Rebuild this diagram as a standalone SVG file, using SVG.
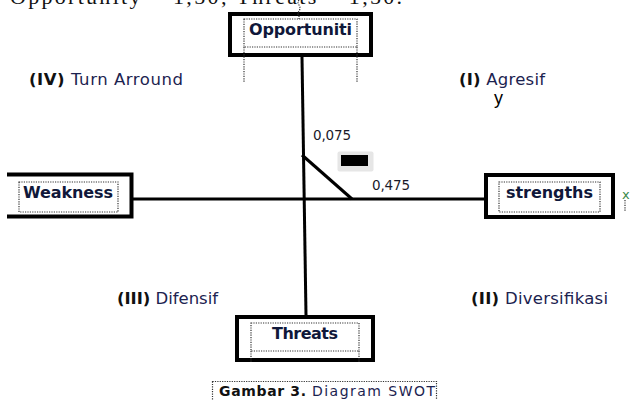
<svg xmlns="http://www.w3.org/2000/svg" width="635" height="400" viewBox="0 0 635 400">
<style>
.box{fill:#fff;stroke:#000;stroke-width:4}
.dot{fill:none;stroke:#333;stroke-width:1.2;stroke-dasharray:1.2 1.2}
.ln{stroke:#000;stroke-width:3;fill:none}
.lbl{font-family:"DejaVu Sans",Verdana,sans-serif;font-weight:bold;font-size:16px;fill:#10183a}
.q{font-family:"DejaVu Sans",Verdana,sans-serif;font-size:16.5px;fill:#1c2350}
.num{font-family:"DejaVu Sans",Verdana,sans-serif;font-size:13.5px;fill:#1a1a2a}
</style>
<rect width="635" height="400" fill="#fff"/>
<text x="10" y="4" font-family="'Liberation Serif',serif" font-size="22" fill="#111" textLength="392">Opportunity  = 1,50; Threats = 1,50.</text>

<g id="connectors">
<line class="ln" x1="302" y1="57" x2="306" y2="315"/>
<line class="ln" x1="133" y1="199" x2="484" y2="199"/>
<line class="ln" x1="302" y1="155" x2="352" y2="199"/>
</g>

<g id="opportuniti">
<rect class="box" x="230" y="14" width="141" height="41"/>
<path class="dot" d="M299,0 q-2,3 0,5 q2,3 0,6 q-2,3 0,5 V19"/>
<rect class="dot" x="244" y="19" width="113" height="28"/>
<path class="dot" d="M244,47 V83 M357,47 V83"/>
<text class="lbl" x="249" y="35" textLength="103">Opportuniti</text>
</g>

<g id="weakness">
<path class="box" d="M7,174.5 H131.5 V216.5 H7"/>
<rect class="dot" x="19" y="182" width="99" height="30"/>
<text class="lbl" x="23" y="198" textLength="90">Weakness</text>
</g>

<g id="strengths">
<rect class="box" x="486" y="175" width="127" height="42"/>
<rect class="dot" x="499" y="182" width="101" height="30"/>
<text class="lbl" x="506" y="198" textLength="87">strengths</text>
<text x="622" y="199" font-family="'DejaVu Sans',sans-serif" font-size="13" fill="#3a8a4a">x</text>
<path class="dot" d="M625,200 V211"/>
</g>

<g id="threats">
<rect class="box" x="237" y="317" width="136" height="43"/>
<rect class="dot" x="251" y="323" width="108" height="28"/>
<path class="dot" d="M251,351 V362 M359,351 V362"/>
<text class="lbl" x="272" y="339" textLength="66">Threats</text>
</g>

<g id="quadrants">
<text class="q" x="29" y="85" textLength="154"><tspan font-weight="bold" fill="#111">(IV)</tspan> Turn Arround</text>
<text class="q" x="459" y="85" textLength="86"><tspan font-weight="bold" fill="#111">(I)</tspan> Agresif</text>
<text class="q" x="117" y="304" textLength="101"><tspan font-weight="bold" fill="#111">(III)</tspan> Difensif</text>
<text class="q" x="471" y="304" textLength="137"><tspan font-weight="bold" fill="#111">(II)</tspan> Diversifikasi</text>
<text x="494" y="104" font-family="'Liberation Sans',Arial,sans-serif" font-size="18" fill="#000">y</text>
</g>

<g id="values">
<text class="num" x="313" y="140" textLength="38">0,075</text>
<text class="num" x="372" y="190" textLength="38">0,475</text>
<rect x="337.5" y="151.5" width="36" height="20" rx="2" fill="#e6e6e6"/>
<rect x="341" y="155" width="27" height="11" fill="#000"/>
</g>

<g id="caption">
<rect class="dot" x="212.5" y="381.5" width="224" height="19"/>
<text x="219" y="396" font-family="'DejaVu Sans',Verdana,sans-serif" font-size="14" font-weight="bold" fill="#111" textLength="87">Gambar 3.</text>
<text x="312" y="396" font-family="'DejaVu Sans',Verdana,sans-serif" font-size="14" fill="#1c2350" textLength="123">Diagram SWOT</text>
</g>
</svg>
